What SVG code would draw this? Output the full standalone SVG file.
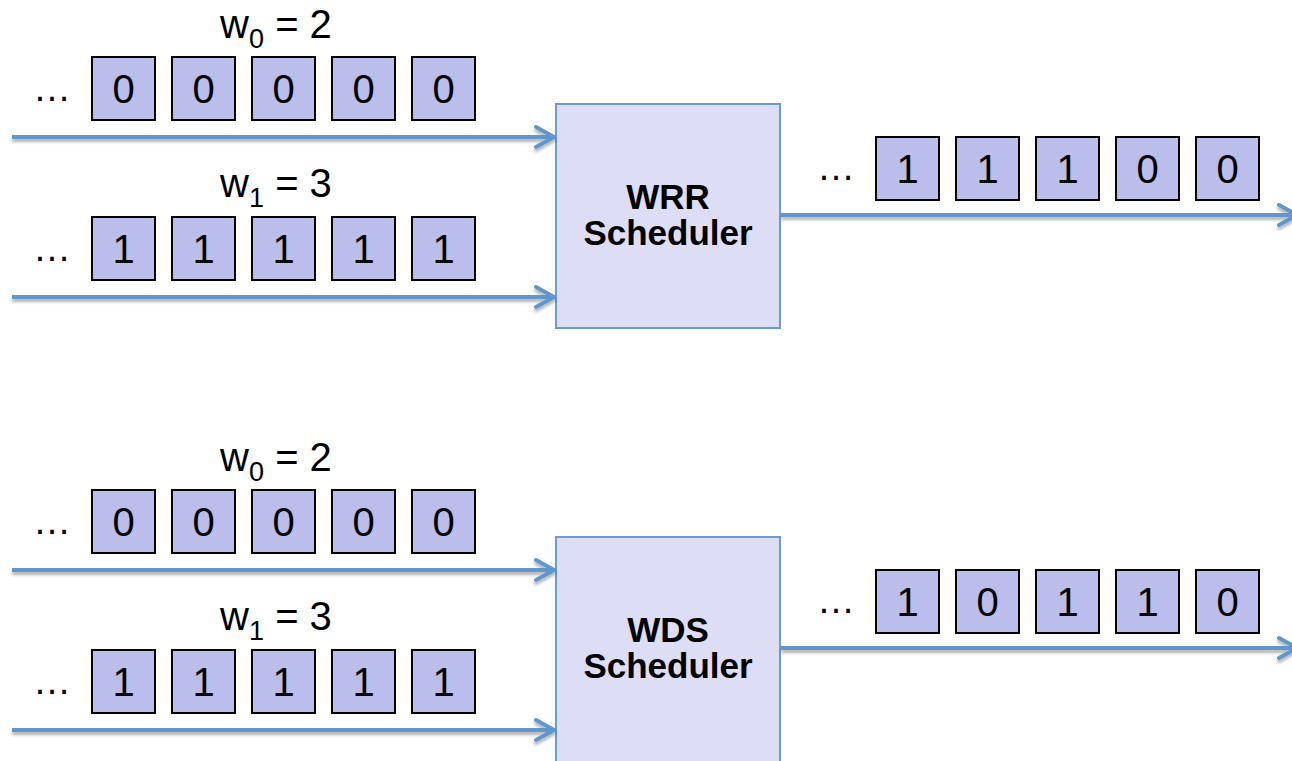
<svg xmlns="http://www.w3.org/2000/svg" width="1292" height="761" viewBox="0 0 1292 761">
  <defs>
    <style>
      .pkt { fill: #bbbdeb; stroke: #000; stroke-width: 2; }
      .dig { font-family: "Liberation Sans", Arial, sans-serif; font-size: 40px; fill: #000; text-anchor: middle; }
      .dots { font-family: "Liberation Sans", Arial, sans-serif; font-size: 38px; fill: #000; text-anchor: middle; }
      .wlab { font-family: "Liberation Sans", Arial, sans-serif; font-size: 40px; fill: #000; text-anchor: middle; }
      .sched { fill: #dddef5; stroke: #6c9bd2; stroke-width: 2; }
      .stitle { font-family: "Liberation Sans", Arial, sans-serif; font-size: 35px; font-weight: bold; fill: #000; text-anchor: middle; }
      .wire { fill: none; stroke: #5f96cc; stroke-width: 4; marker-end: url(#chev); filter: url(#shade); }
    </style>
    <marker id="chev" markerUnits="userSpaceOnUse" markerWidth="30" markerHeight="30" viewBox="-22 -15 26 30" refX="0" refY="0" orient="auto">
      <path d="M-18,-10 L0,0 L-18,10" fill="none" stroke="#5f96cc" stroke-width="4" stroke-linecap="round" stroke-linejoin="round"/>
    </marker>
    <!-- soft shadow under the wires; user-space region since the lines have no height -->
    <filter id="shade" filterUnits="userSpaceOnUse" x="0" y="0" width="1292" height="761">
      <feDropShadow dx="0" dy="3" stdDeviation="1.5" flood-color="#000" flood-opacity="0.3"/>
    </filter>
    <!-- packet cell, 63x63 on an 80px pitch -->
    <rect id="pk" class="pkt" width="63" height="63"/>
  </defs>

  <!-- ===== Weighted round robin ===== -->
  <g id="wrr-in0">
    <text class="wlab" x="276" y="38">w<tspan font-size="27" dy="10">0</tspan><tspan dy="-10"> = 2</tspan></text>
    <text class="dots" x="52" y="101">…</text>
    <use href="#pk" x="92" y="57"/><use href="#pk" x="172" y="57"/><use href="#pk" x="252" y="57"/><use href="#pk" x="332" y="57"/><use href="#pk" x="412" y="57"/>
    <text class="dig" x="123.5" y="103">0</text><text class="dig" x="203.5" y="103">0</text><text class="dig" x="283.5" y="103">0</text><text class="dig" x="363.5" y="103">0</text><text class="dig" x="443.5" y="103">0</text>
  </g>
  <g id="wrr-in1">
    <text class="wlab" x="276" y="197">w<tspan font-size="27" dy="10">1</tspan><tspan dy="-10"> = 3</tspan></text>
    <text class="dots" x="52" y="261">…</text>
    <use href="#pk" x="92" y="217"/><use href="#pk" x="172" y="217"/><use href="#pk" x="252" y="217"/><use href="#pk" x="332" y="217"/><use href="#pk" x="412" y="217"/>
    <text class="dig" x="123.5" y="263">1</text><text class="dig" x="203.5" y="263">1</text><text class="dig" x="283.5" y="263">1</text><text class="dig" x="363.5" y="263">1</text><text class="dig" x="443.5" y="263">1</text>
  </g>
  <g id="wrr-sched">
    <rect class="sched" x="556" y="104" width="224" height="224"/>
    <text class="stitle" x="668" y="209">WRR</text>
    <text class="stitle" x="668" y="245">Scheduler</text>
  </g>
  <g id="wrr-out">
    <text class="dots" x="836" y="180">…</text>
    <use href="#pk" x="876" y="137"/><use href="#pk" x="956" y="137"/><use href="#pk" x="1036" y="137"/><use href="#pk" x="1116" y="137"/><use href="#pk" x="1196" y="137"/>
    <text class="dig" x="907.5" y="183">1</text><text class="dig" x="987.5" y="183">1</text><text class="dig" x="1067.5" y="183">1</text><text class="dig" x="1147.5" y="183">0</text><text class="dig" x="1227.5" y="183">0</text>
  </g>

  <!-- ===== Weighted deficit scheduling ===== -->
  <g id="wds-in0">
    <text class="wlab" x="276" y="471">w<tspan font-size="27" dy="10">0</tspan><tspan dy="-10"> = 2</tspan></text>
    <text class="dots" x="52" y="534">…</text>
    <use href="#pk" x="92" y="490"/><use href="#pk" x="172" y="490"/><use href="#pk" x="252" y="490"/><use href="#pk" x="332" y="490"/><use href="#pk" x="412" y="490"/>
    <text class="dig" x="123.5" y="536">0</text><text class="dig" x="203.5" y="536">0</text><text class="dig" x="283.5" y="536">0</text><text class="dig" x="363.5" y="536">0</text><text class="dig" x="443.5" y="536">0</text>
  </g>
  <g id="wds-in1">
    <text class="wlab" x="276" y="630">w<tspan font-size="27" dy="10">1</tspan><tspan dy="-10"> = 3</tspan></text>
    <text class="dots" x="52" y="694">…</text>
    <use href="#pk" x="92" y="650"/><use href="#pk" x="172" y="650"/><use href="#pk" x="252" y="650"/><use href="#pk" x="332" y="650"/><use href="#pk" x="412" y="650"/>
    <text class="dig" x="123.5" y="696">1</text><text class="dig" x="203.5" y="696">1</text><text class="dig" x="283.5" y="696">1</text><text class="dig" x="363.5" y="696">1</text><text class="dig" x="443.5" y="696">1</text>
  </g>
  <g id="wds-sched">
    <rect class="sched" x="556" y="537" width="224" height="226"/>
    <text class="stitle" x="668" y="642">WDS</text>
    <text class="stitle" x="668" y="678">Scheduler</text>
  </g>
  <g id="wds-out">
    <text class="dots" x="836" y="613">…</text>
    <use href="#pk" x="876" y="570"/><use href="#pk" x="956" y="570"/><use href="#pk" x="1036" y="570"/><use href="#pk" x="1116" y="570"/><use href="#pk" x="1196" y="570"/>
    <text class="dig" x="907.5" y="616">1</text><text class="dig" x="987.5" y="616">0</text><text class="dig" x="1067.5" y="616">1</text><text class="dig" x="1147.5" y="616">1</text><text class="dig" x="1227.5" y="616">0</text>
  </g>

  <!-- connectors -->
  <g id="connectors">
    <path class="wire" d="M12,137 H554"/>
    <path class="wire" d="M12,297 H554"/>
    <path class="wire" d="M781,215 H1297"/>
    <path class="wire" d="M12,570 H554"/>
    <path class="wire" d="M12,730 H554"/>
    <path class="wire" d="M781,648 H1297"/>
  </g>
</svg>
